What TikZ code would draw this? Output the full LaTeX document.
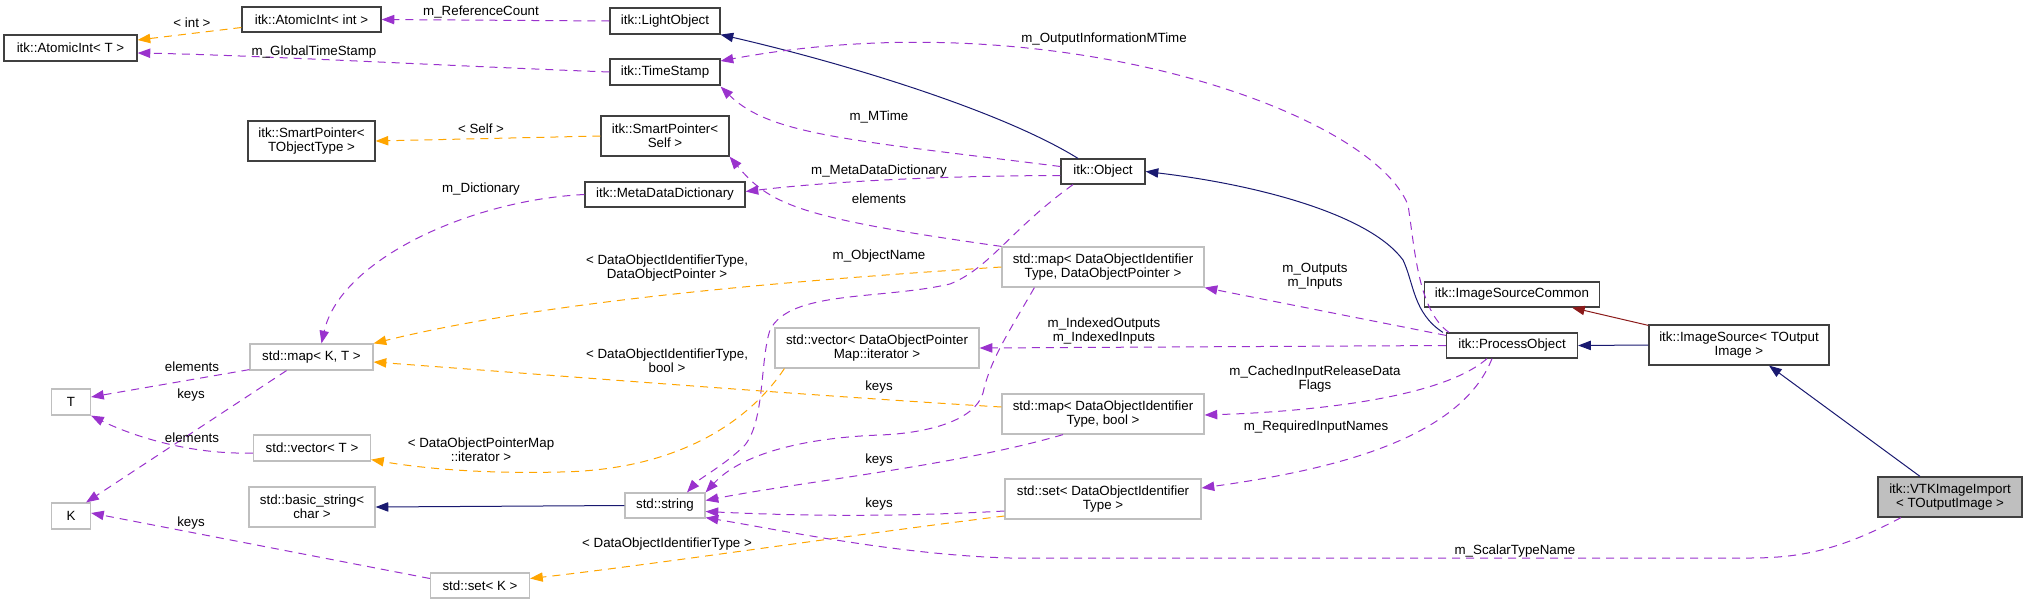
\documentclass[tikz,border=0pt]{standalone}
\usepackage{fontspec}
\setmainfont{Liberation Sans}
\usetikzlibrary{arrows.meta,calc}
\definecolor{epur}{HTML}{9A32CD}
\definecolor{eora}{HTML}{FFA500}
\definecolor{eblu}{HTML}{191970}
\definecolor{ered}{HTML}{8B1A1A}
\definecolor{bgray}{HTML}{BFBFBF}
\definecolor{bdark}{HTML}{404040}
\newcommand\dxf{\fontsize{10}{10.5}\selectfont}
\tikzset{
 box/.style={draw=bdark, line width=0.9pt, fill=white, inner sep=0pt, align=center, font=\dxf},
 gbox/.style={box, draw=bgray},
 sz/.style 2 args={minimum width=#1*0.75pt, minimum height=#2*0.75pt},
 lab/.style={inner sep=0pt, align=center, font=\dxf},
 conn/.style={line width=0.75pt, -{Triangle[length=9.5pt,width=7pt]}},
 pur/.style={conn, draw=epur, dash pattern=on 6pt off 4.5pt},
 ora/.style={conn, draw=eora, dash pattern=on 6pt off 4.5pt},
 inh/.style={conn, draw=eblu},
 usedby/.style={conn, draw=ered},
}
\begin{document}
\begin{tikzpicture}[x=0.75pt,y=-0.75pt]
\useasboundingbox (0,0) rectangle (2027,604);
% nodes
\node[box,sz={133}{26}] (ait) at (70.5,48) {itk::AtomicInt< T >};
\node[box,sz={139}{25}] (aint) at (311.5,19.5) {itk::AtomicInt< int >};
\node[box,sz={110}{26}] (lo) at (665,21) {itk::LightObject};
\node[box,sz={110}{26}] (ts) at (665,72) {itk::TimeStamp};
\node[box,sz={127}{40}] (spt) at (311.5,141) {itk::SmartPointer<\\TObjectType >};
\node[box,sz={128}{40}] (sps) at (665,136) {itk::SmartPointer<\\Self >};
\node[box,sz={160}{25}] (mdd) at (665,194.5) {itk::MetaDataDictionary};
\node[box,sz={84}{25}] (obj) at (1103,171.5) {itk::Object};
\node[gbox,sz={123}{26}] (mapkt) at (311.5,357) {std::map< K, T >};
\node[gbox,sz={202}{40}] (mapdop) at (1103,267) {std::map< DataObjectIdentifier\\Type, DataObjectPointer >};
\node[gbox,sz={204}{40}] (vecit) at (877,348) {std::vector< DataObjectPointer\\Map::iterator >};
\node[gbox,sz={202}{40}] (mapbool) at (1103,414) {std::map< DataObjectIdentifier\\Type, bool >};
\node[gbox,sz={80}{25}] (str) at (665,505.5) {std::string};
\node[gbox,sz={196}{40}] (setdoit) at (1103,499) {std::set< DataObjectIdentifier\\Type >};
\node[box,sz={175}{25}] (isc) at (1512,294.5) {itk::ImageSourceCommon};
\node[box,sz={131}{25}] (po) at (1512,345.5) {itk::ProcessObject};
\node[box,sz={180}{40}] (is) at (1739,345) {itk::ImageSource< TOutput\\Image >};
\node[box,fill=bgray,sz={144}{40}] (vtk) at (1950,497) {itk::VTKImageImport\\< TOutputImage >};
\node[gbox,sz={39}{26}] (T) at (71,402) {T};
\node[gbox,sz={39}{26}] (K) at (71,516) {K};
\node[gbox,sz={117}{26}] (vect) at (312,448) {std::vector< T >};
\node[gbox,sz={126}{40}] (bstr) at (312,507) {std::basic\_string<\\char >};
\node[gbox,sz={99}{25}] (setk) at (480,585.5) {std::set< K >};
% edges
\draw[ora] ($(aint.west)+(0,8)$) -- ($(ait.east)+(0,-8)$);
\draw[pur] (lo.west) -- (aint.east);
\draw[pur] (ts.west) .. controls (450,66) and (250,55) .. ($(ait.east)+(0,5)$);
\draw[inh] ($(obj.north)+(-25,0)$) .. controls (1000,110) and (840,62) .. (lo.south east);
\draw[pur] ($(obj.west)+(0,-5)$) .. controls (850,140) and (770,135) .. ($(ts.south east)+(0,1)$);
\draw[pur] ($(po.north west)+(3,0)$) .. controls (1418,310) and (1415,250) .. (1408,205)
   .. controls (1370,110) and (1050,0) .. ($(ts.east)+(0,-11)$);
\draw[inh] ($(po.north west)+(-3,0)$) .. controls (1413,313) and (1414,283) .. (1403,260)
   .. controls (1370,215) and (1260,185) .. (obj.east);
\draw[pur] ($(obj.west)+(0,4)$) .. controls (900,176) and (800,185) .. ($(mdd.east)+(0,-3)$);
\draw[pur] (mdd.west) .. controls (470,200) and (340,260) .. ($(mapkt.north)+(10,0)$);
\draw[pur] (mapdop.north west) .. controls (800,218) and (770,205) .. (sps.south east);
\draw[ora] (sps.west) -- (spt.east);
\draw[pur] ($(obj.south)+(-30,0)$) .. controls (1010,230) and (990,268) .. (950,284)
   .. controls (880,300) and (790,290) .. (770,330)
   .. controls (760,360) and (765,420) .. (745,445)
   .. controls (725,465) and (700,478) .. ($(str.north)+(22,0)$);
\draw[pur] ($(mapdop.south west)+(33,0)$) .. controls (1010,330) and (990,360) .. (983,393)
   .. controls (975,420) and (930,433) .. (880,435)
   .. controls (800,438) and (740,455) .. (str.north east);
\draw[pur] ($(po.north west)+(0,3)$) -- (mapdop.south east);
\draw[pur] (po.west) -- (vecit.east);
\draw[pur] ($(po.south)+(-25,0)$) .. controls (1440,400) and (1300,412) .. ($(mapbool.east)+(0,1)$);
\draw[pur] ($(po.south)+(-20,0)$) .. controls (1460,440) and (1330,470) .. ($(setdoit.east)+(0,-11)$);
\draw[inh] (is.west) -- (po.east);
\draw[usedby] ($(is.north west)+(0,1)$) -- ($(isc.south)+(60,0)$);
\draw[inh] ($(vtk.north)+(-30,0)$) -- ($(is.south)+(30,0)$);
\draw[pur] ($(vtk.south)+(-49,0)$) .. controls (1840,550) and (1800,558) .. (1750,558)
   -- (1010,558) .. controls (900,555) and (780,530) .. ($(str.south east)+(0,-1)$);
\draw[pur] ($(mapkt.south west)+(0,-1)$) -- ($(T.east)+(0,-5)$);
\draw[pur] ($(mapkt.south)+(-25,0)$) -- ($(K.north east)+(-5,0)$);
\draw[pur] ($(vect.west)+(0,5)$) .. controls (180,455) and (120,430) .. (T.south east);
\draw[ora] ($(vecit.south west)+(10,0)$) .. controls (750,420) and (680,470) .. (560,472)
   .. controls (480,474) and (420,468) .. ($(vect.south east)+(0,-2)$);
\draw[ora] (mapdop.west) .. controls (800,280) and (550,300) .. (mapkt.north east);
\draw[ora] ($(mapbool.west)+(0,-7)$) .. controls (800,395) and (550,375) .. ($(mapkt.east)+(0,5)$);
\draw[ora] ($(setdoit.west)+(0,17)$) .. controls (850,535) and (650,565) .. ($(setk.east)+(0,-7)$);
\draw[pur] ($(setk.west)+(0,-7)$) -- ($(K.east)+(0,-3)$);
\draw[inh] (str.west) -- (bstr.east);
\draw[pur] ($(mapbool.south)+(-40,0)$) .. controls (960,465) and (800,482) .. ($(str.east)+(0,-5)$);
\draw[pur] ($(setdoit.west)+(0,12)$) .. controls (880,518) and (780,515) .. ($(str.east)+(0,6)$);
% labels
\node[lab] (l1) at (192,23) {< int >};
\node[lab] (l2) at (481,12) {m\_ReferenceCount};
\node[lab] (l3) at (314,52) {m\_GlobalTimeStamp};
\node[lab] (l4) at (481,129) {< Self >};
\node[lab] (l5) at (481,189) {m\_Dictionary};
\node[lab] (l6) at (1104,39) {m\_OutputInformationMTime};
\node[lab] (l7) at (879,117) {m\_MTime};
\node[lab] (l8) at (879,171) {m\_MetaDataDictionary};
\node[lab] (l9) at (879,199) {elements};
\node[lab] (l10) at (667,268) {< DataObjectIdentifierType,\\DataObjectPointer >};
\node[lab] (l11) at (879,256) {m\_ObjectName};
\node[lab] (l12) at (1315,276.5) {m\_Outputs\\m\_Inputs};
\node[lab] (l13) at (1104,331) {m\_IndexedOutputs\\m\_IndexedInputs};
\node[lab] (l14) at (667,361) {< DataObjectIdentifierType,\\bool >};
\node[lab] (l15) at (192,367) {elements};
\node[lab] (l16) at (191,395) {keys};
\node[lab] (l17) at (1315,379) {m\_CachedInputReleaseData\\Flags};
\node[lab] (l18) at (879,387) {keys};
\node[lab] (l19) at (1316,427) {m\_RequiredInputNames};
\node[lab] (l20) at (192,438) {elements};
\node[lab] (l21) at (481,450) {< DataObjectPointerMap\\::iterator >};
\node[lab] (l22) at (879,460) {keys};
\node[lab] (l23) at (879,504) {keys};
\node[lab] (l24) at (191,523) {keys};
\node[lab] (l25) at (667,544) {< DataObjectIdentifierType >};
\node[lab] (l26) at (1515,551) {m\_ScalarTypeName};
\end{tikzpicture}
\end{document}
